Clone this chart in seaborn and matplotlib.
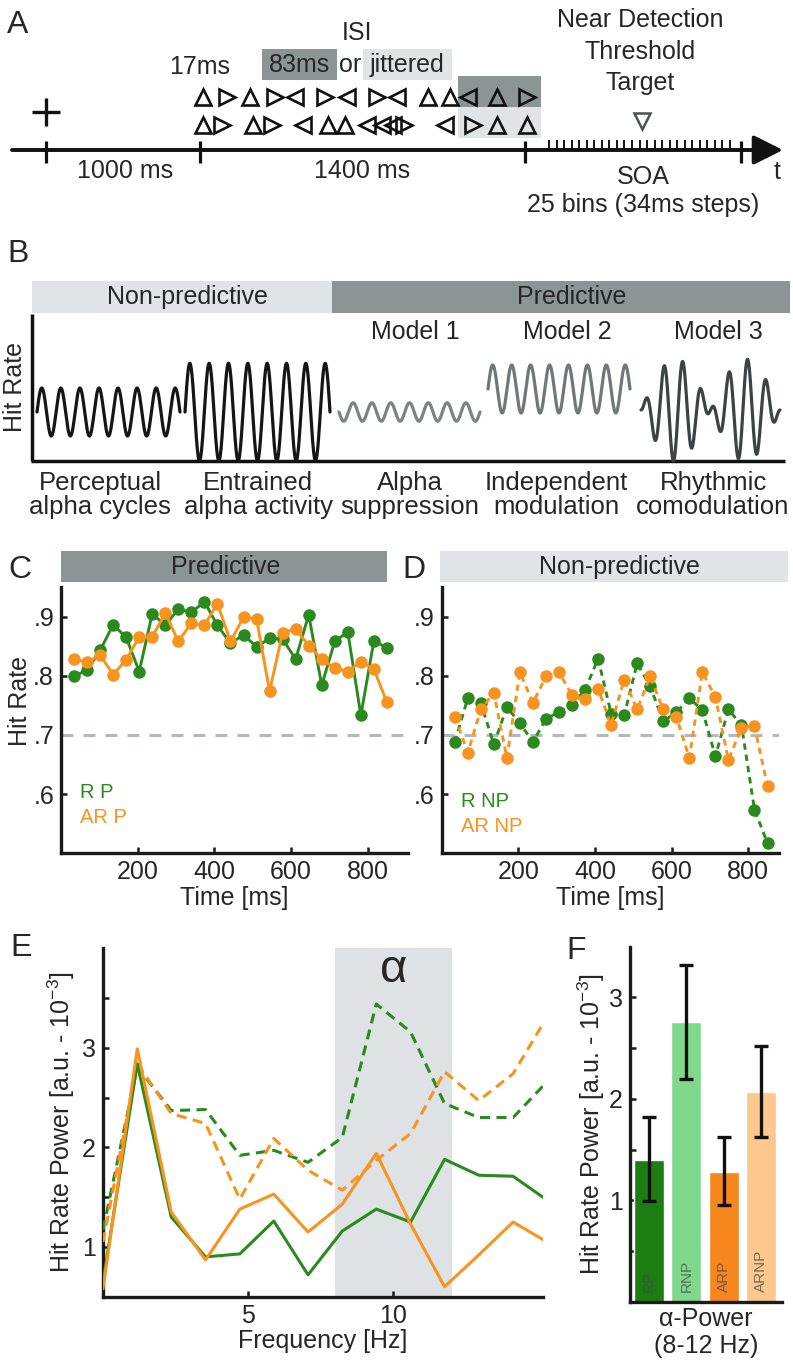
import numpy as np
import matplotlib
matplotlib.use("Agg")
import matplotlib.pyplot as plt
import seaborn as sns

# ---------------- data ----------------
# C / D : hit rate per SOA bin
time_ms = [34, 68, 102, 136, 170, 204, 238, 272, 306, 340, 374, 408, 442,
           476, 510, 544, 578, 612, 646, 680, 714, 748, 782, 816, 850]
hit_r_p = [.800, .809, .843, .886, .865, .807, .905, .885, .913, .907, .925, .885, .855,
           .869, .849, .863, .862, .828, .903, .784, .858, .874, .733, .859, .847]
hit_ar_p = [.828, .823, .835, .802, .827, .866, .866, .906, .858, .889, .885, .922, .858,
            .899, .896, .774, .873, .879, .851, .828, .813, .807, .824, .811, .755]
hit_r_np = [.688, .762, .754, .684, .747, .720, .688, .727, .739, .751, .776, .829, .736,
            .733, .821, .782, .723, .738, .762, .742, .664, .743, .717, .574, .517]
hit_ar_np = [.731, .670, .743, .771, .661, .806, .754, .799, .806, .767, .760, .778, .717,
             .793, .743, .799, .743, .731, .661, .806, .764, .658, .712, .715, .613]
threshold_rate = 0.7

# E : hit-rate power spectra
freq_hz = [0.00, 1.18, 2.35, 3.53, 4.71, 5.88, 7.06, 8.24, 9.41, 10.59, 11.76, 12.94, 14.12, 15.29]
pow_r_p = [0.65, 2.84, 1.30, 0.90, 0.93, 1.26, 0.72, 1.16, 1.38, 1.25, 1.88, 1.72, 1.71, 1.47]
pow_ar_p = [0.58, 2.99, 1.35, 0.87, 1.38, 1.53, 1.15, 1.43, 1.94, 1.23, 0.60, 0.92, 1.25, 1.05]
pow_r_np = [1.17, 2.81, 2.37, 2.38, 1.92, 1.97, 1.85, 2.10, 3.44, 3.16, 2.44, 2.30, 2.30, 2.66]
pow_ar_np = [1.05, 2.84, 2.34, 2.24, 1.48, 2.09, 1.77, 1.57, 1.87, 2.14, 2.76, 2.47, 2.74, 3.31]
alpha_band = [8, 12]

# F : alpha power bars
bar_labels = ['RP', 'RNP', 'ARP', 'ARNP']
bar_power = [1.40, 2.76, 1.28, 2.07]
bar_err_low = [0.99, 2.20, 0.95, 1.62]
bar_err_high = [1.82, 3.32, 1.62, 2.52]

# A : schematic trial (positions along the schematic time line)
stream_row1 = ['^', '>', '^', '>', '<', '>', '<', '>', '<', '^', '^', '<', '^', '>']
stream_row1_x = [203, 227, 250, 275, 295, 325, 347, 377, 397, 428, 450, 468, 497, 527]
stream_row2 = ['^', '>', '^', '>', '<', '^', '^', '<', '<', '<', '>', '<', '>', '^', '^']
stream_row2_x = [203, 222, 253, 272, 303, 328, 345, 367, 382, 393, 404, 445, 473, 497, 527]
epoch_marks_x = [46, 200, 525, 741]
epoch_labels = ['1000 ms', '1400 ms']
epoch_label_x = [125, 362]

# B : schematic models
model_titles = ['Model 1', 'Model 2', 'Model 3']
model_title_x = [415, 567, 718]
scheme_labels = ['Perceptual\nalpha cycles', 'Entrained\nalpha activity', 'Alpha\nsuppression',
                 'Independent\nmodulation', 'Rhythmic\ncomodulation']
scheme_label_x = [100, 258, 410, 556, 713]
wave_start = [37, 185, 339, 488, 641]
wave_end = [180, 330, 480, 630, 780]
wave_center = [412, 412, 412, 389, 410]
wave_amp = [24, 48.7, 9.2, 24, 51]
wave_sign = [1, 1, -1, 1, 1]
wave_cycles = 7.5

# ---------------- style ----------------
sns.set_theme(style="ticks")
plt.rcParams['font.family'] = ['Liberation Sans', 'DejaVu Sans']
plt.rcParams['mathtext.fontset'] = 'custom'
plt.rcParams['mathtext.rm'] = 'Liberation Sans'
plt.rcParams['mathtext.it'] = 'Liberation Sans:italic'
plt.rcParams['axes.linewidth'] = 2.4
plt.rcParams['axes.edgecolor'] = '#1a1a1a'

GREEN = '#2b8a1e'
ORANGE = '#f7931e'
DARKHDR = '#8b9594'
LIGHTHDR = '#e0e4e6'
WAVE_COLORS = ['#151515', '#151515', '#7c8383', '#6f7878', '#3d4343']
BAR_COLORS = {'RP': '#1b7d12', 'RNP': '#80d98b', 'ARP': '#f7861c', 'ARNP': '#fdc88d'}

W, H = 793, 1362
fig = plt.figure(figsize=(W / 100, H / 100), dpi=100)
fig.patch.set_facecolor('white')

# overlay axes in pixel units for schematics & annotations
ax0 = fig.add_axes([0, 0, 1, 1])
ax0.set_xlim(0, W)
ax0.set_ylim(H, 0)
ax0.axis('off')


def px_axes(left, top, right, bottom):
    a = fig.add_axes([left / W, 1 - bottom / H, (right - left) / W, (bottom - top) / H])
    a.set_facecolor('none')
    for s in ['top', 'right']:
        a.spines[s].set_visible(False)
    a.tick_params(direction='in', length=4, width=1.8, labelsize=18, pad=5, color='#1a1a1a')
    a.tick_params(which='minor', direction='in', length=4, width=1.8, color='#1a1a1a')
    return a


FS = 18
LET = 23

# ---------------- Panel A ----------------
ax0.text(18, 25, 'A', fontsize=LET, ha='center', va='center')
ax0.plot([46], [112], marker='+', markersize=20, mew=2.4, color='#111')
ax0.annotate('', xy=(783, 150), xytext=(12, 150),
             arrowprops=dict(arrowstyle='-|>,head_length=1.0,head_width=0.5', lw=2.8,
                             color='#111', mutation_scale=18, shrinkA=0, shrinkB=0))
for xm in epoch_marks_x:
    ax0.plot([xm, xm], [141, 163], color='#111', lw=2.3, solid_capstyle='butt')
soa_x = [549 + (t - time_ms[0]) / (time_ms[-1] - time_ms[0]) * 181 for t in time_ms]
for xs in soa_x:
    ax0.plot([xs, xs], [140, 149], color='#111', lw=1.4, solid_capstyle='butt')
for lab, xl in zip(epoch_labels, epoch_label_x):
    ax0.text(xl, 171, lab, fontsize=FS, ha='center', va='center')
ax0.text(777, 172, 't', fontsize=FS, ha='center', va='center')
ax0.text(643, 177, 'SOA', fontsize=FS, ha='center', va='center')
ax0.text(643, 205, '25 bins (34ms steps)', fontsize=FS, ha='center', va='center')
for txt, yy in zip(['Near Detection', 'Threshold', 'Target'], [20, 52, 83]):
    ax0.text(640, yy, txt, fontsize=FS, ha='center', va='center')
ax0.plot([642], [121], marker='v', markersize=11, mew=1.8, mfc='none', mec='#4d5353')

ax0.text(357, 33, 'ISI', fontsize=FS, ha='center', va='center')
ax0.text(200, 67, '17ms', fontsize=FS, ha='center', va='center')
ax0.add_patch(plt.Rectangle((262, 49), 75, 31, color=DARKHDR, lw=0))
ax0.text(299, 65, '83ms', fontsize=FS, ha='center', va='center')
ax0.text(350, 65, 'or', fontsize=FS, ha='center', va='center')
ax0.add_patch(plt.Rectangle((363, 49), 89, 31, color=LIGHTHDR, lw=0))
ax0.text(407, 65, 'jittered', fontsize=FS, ha='center', va='center')
ax0.add_patch(plt.Rectangle((458, 76), 83, 31, color=DARKHDR, lw=0))
ax0.add_patch(plt.Rectangle((458, 107), 83, 31, color=LIGHTHDR, lw=0))
for m, xx in zip(stream_row1, stream_row1_x):
    ax0.plot([xx], [97], marker=m, markersize=11, mew=1.9, mfc='none', mec='#111')
for m, xx in zip(stream_row2, stream_row2_x):
    ax0.plot([xx], [125], marker=m, markersize=11, mew=1.9, mfc='none', mec='#111')

# ---------------- Panel B ----------------
ax0.text(18, 254, 'B', fontsize=LET, ha='center', va='center')
ax0.add_patch(plt.Rectangle((31.7, 281), 300, 32, color=LIGHTHDR, lw=0))
ax0.add_patch(plt.Rectangle((331.7, 281), 458, 32, color=DARKHDR, lw=0))
ax0.text(187, 297, 'Non-predictive', fontsize=FS, ha='center', va='center')
ax0.text(572, 297, 'Predictive', fontsize=FS, ha='center', va='center')
ax0.plot([31.7, 31.7], [314, 461], color='#111', lw=2.5, solid_capstyle='butt')
ax0.plot([30.5, 785], [460.7, 460.7], color='#111', lw=2.5, solid_capstyle='butt')
ax0.text(15, 387, 'Hit Rate', fontsize=FS, rotation=90, ha='center', va='center')
for t_, xt in zip(model_titles, model_title_x):
    ax0.text(xt, 332, t_, fontsize=FS, ha='center', va='center')
for lab, xl in zip(scheme_labels, scheme_label_x):
    ax0.text(xl, 495, lab, fontsize=18.5, ha='center', va='center', linespacing=1.0)
tt = np.linspace(0, 1, 600)
for i in range(5):
    xw = wave_start[i] + tt * (wave_end[i] - wave_start[i])
    carrier = np.sin(2 * np.pi * wave_cycles * tt)
    if i == 4:
        carrier = carrier * np.sin(2 * np.pi * tt)
    yw = wave_center[i] - wave_sign[i] * wave_amp[i] * carrier
    ax0.plot(xw, yw, color=WAVE_COLORS[i], lw=2.3)

# ---------------- Panels C & D ----------------
ax0.text(20, 570, 'C', fontsize=LET, ha='center', va='center')
ax0.text(414, 570, 'D', fontsize=LET, ha='center', va='center')
ax0.add_patch(plt.Rectangle((61, 551), 326, 31, color=DARKHDR, lw=0))
ax0.text(226, 567, 'Predictive', fontsize=FS, ha='center', va='center')
ax0.add_patch(plt.Rectangle((440, 551), 348, 31, color=LIGHTHDR, lw=0))
ax0.text(619, 567, 'Non-predictive', fontsize=FS, ha='center', va='center')

axC = px_axes(61, 587, 408, 853.3)
axD = px_axes(441.7, 587, 779, 853.3)

for ax, g, o, dashed, xmax, labs, ly in [
        (axC, hit_r_p, hit_ar_p, False, 905, ('R P', 'AR P'), (.603, .560)),
        (axD, hit_r_np, hit_ar_np, True, 880, ('R NP', 'AR NP'), (.588, .546))]:
    ax.axhline(threshold_rate, color='#b3b8b9', lw=2.2, dashes=(3.9, 3.3), zorder=1)
    for series, col in [(g, GREEN), (o, ORANGE)]:
        sns.lineplot(x=time_ms, y=series, ax=ax, color=col, lw=2.1, marker='o',
                     markersize=9, markeredgecolor=col, markeredgewidth=0, zorder=3)
        if dashed:
            ax.lines[-1].set_dashes((2.2, 1.7))
    ax.set_xlim(0, xmax)
    ax.set_ylim(0.5, 0.95)
    ax.set_xticks([200, 400, 600, 800])
    ax.set_yticks([.6, .7, .8, .9])
    ax.set_yticklabels(['.6', '.7', '.8', '.9'])
    ax.set_xlabel('Time [ms]', fontsize=FS, labelpad=1)
    ax.set_ylabel('')
    ax.text(50, ly[0], labs[0], color=GREEN, fontsize=14.5, va='center', ha='left')
    ax.text(50, ly[1], labs[1], color=ORANGE, fontsize=14.5, va='center', ha='left')
axC.set_ylabel('Hit Rate', fontsize=FS)
axC.yaxis.set_label_coords(-0.084, 0.572)

# ---------------- Panel E ----------------
ax0.text(21, 948, 'E', fontsize=LET, ha='center', va='center')
axE = px_axes(103, 948.3, 543, 1296.7)
axE.axvspan(alpha_band[0], alpha_band[1], color='#dfe2e4', lw=0, zorder=0)
for series, col, dashed in [(pow_r_np, GREEN, True), (pow_ar_np, ORANGE, True),
                            (pow_r_p, GREEN, False), (pow_ar_p, ORANGE, False)]:
    sns.lineplot(x=freq_hz, y=series, ax=axE, color=col, lw=2.2, zorder=3)
    if dashed:
        axE.lines[-1].set_dashes((3.3, 2.1))
axE.set_xlim(0, 15.15)
axE.set_ylim(0.5, 4.0)
axE.set_xticks([5, 10])
axE.set_yticks([1, 2, 3])
axE.set_yticks([1.5, 2.5, 3.5], minor=True)
axE.text(10, 3.78, 'α', fontsize=34, ha='center', va='center')
axE.set_xlabel('Frequency [Hz]', fontsize=FS, labelpad=1)
axE.set_ylabel('Hit Rate Power [a.u. - 10$^{-3}$]', fontsize=FS)
axE.yaxis.set_label_coords(-0.059, 0.5)

# ---------------- Panel F ----------------
ax0.text(576, 951, 'F', fontsize=LET, ha='center', va='center')
axF = px_axes(630, 946.7, 781.7, 1301.7)
sns.barplot(x=bar_labels, y=bar_power, hue=bar_labels, palette=BAR_COLORS, legend=False,
            width=0.8, saturation=1, ax=axF, zorder=2)
axF.errorbar(x=range(len(bar_labels)), y=bar_power,
             yerr=[np.subtract(bar_power, bar_err_low), np.subtract(bar_err_high, bar_power)],
             fmt='none', ecolor='#111', elinewidth=2.4, capsize=5, capthick=2.4, zorder=4)
for i, lab in enumerate(bar_labels):
    axF.text(i, 0.1, lab, rotation=90, ha='center', va='bottom', fontsize=11,
             color='#4a4a4a', alpha=0.75, zorder=5)
axF.set_xlim(-0.507, 3.54)
axF.set_ylim(0, 3.5)
axF.set_xticks([])
axF.set_yticks([1, 2, 3])
axF.set_yticks([0.5, 1.5, 2.5], minor=True)
axF.set_xlabel('α-Power\n(8-12 Hz)', fontsize=FS, labelpad=4, linespacing=1.15)
axF.set_ylabel('Hit Rate Power [a.u. - 10$^{-3}$]', fontsize=FS)
axF.yaxis.set_label_coords(-0.152, 0.5)

fig.savefig('out.png', dpi=100)
